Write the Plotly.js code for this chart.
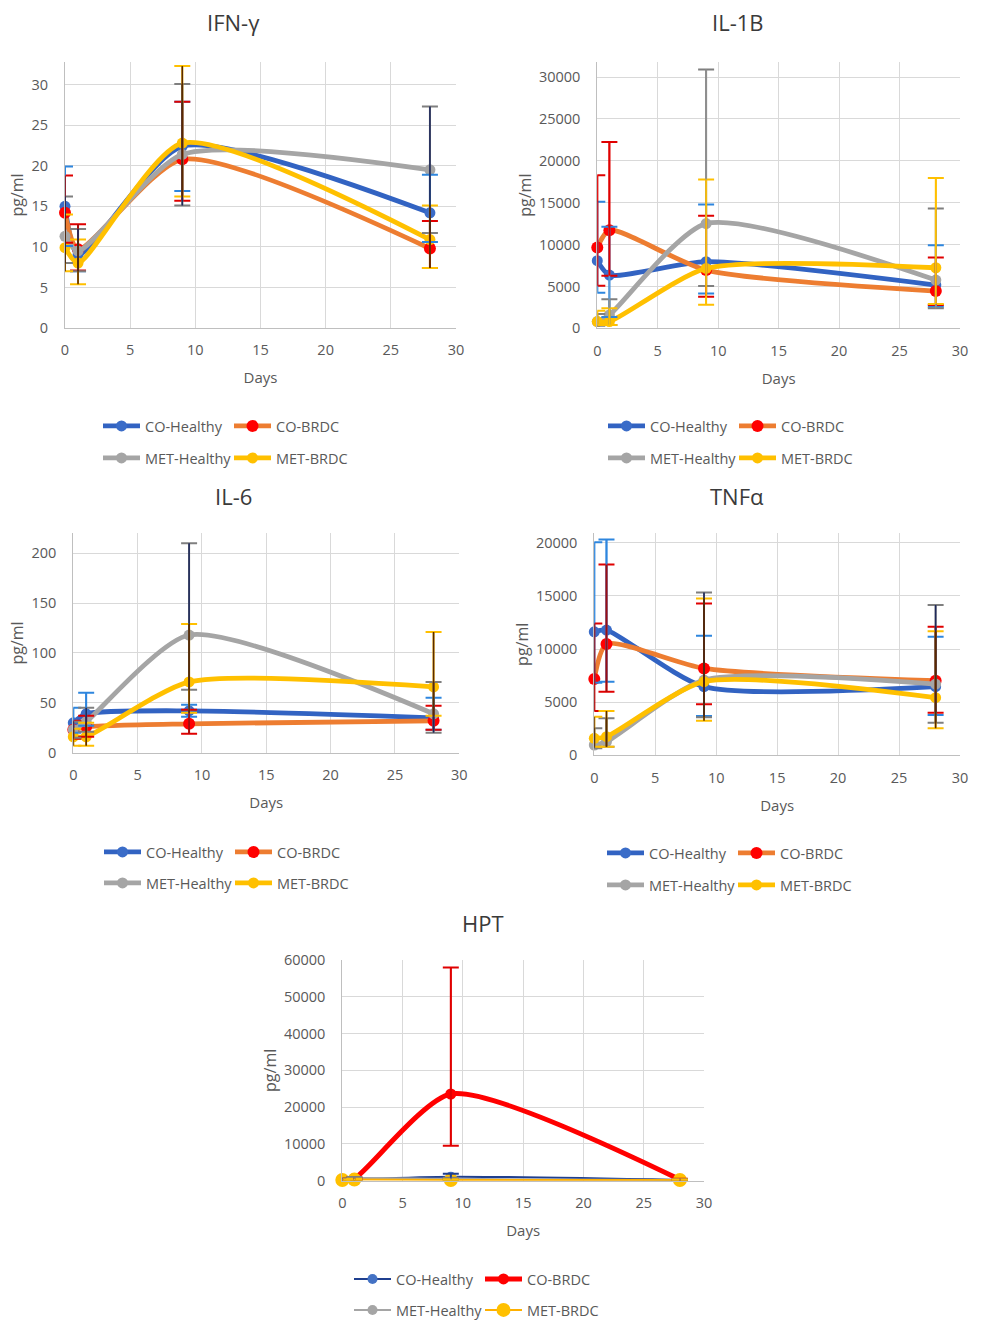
<!DOCTYPE html>
<html><head><meta charset="utf-8">
<script src="https://cdn.plot.ly/plotly-3.0.1.min.js"></script>
<style>html,body{margin:0;padding:0;background:#fff;} #chart{width:981px;height:1339px;}</style>
</head><body><div id="chart"></div>
<script>
// ---------------- DATA ----------------
const days = [0, 1, 9, 28];
const seriesNames = ['CO-Healthy', 'CO-BRDC', 'MET-Healthy', 'MET-BRDC'];
const panelTitles = ['IFN-γ', 'IL-1B', 'IL-6', 'TNFα', 'HPT'];
const xTickVals = [0, 5, 10, 15, 20, 25, 30];
const xAxisLabel = 'Days';
const yAxisLabel = 'pg/ml';

// rows follow seriesNames order; columns follow days
const ifnMean = [
  [15.0, 9.0, 22.4, 14.2],
  [14.2, 9.7, 20.8, 9.8],
  [11.3, 9.5, 21.4, 19.5],
  [9.9, 8.0, 22.8, 10.9]
];
const ifnErrPlus = [
  [4.9, 3.2, 5.5, 4.7],
  [4.6, 3.1, 7.1, 3.4],
  [4.9, 2.7, 8.7, 7.8],
  [4.1, 2.9, 9.5, 4.2]
];
const ifnErrMinus = [
  [4.9, 2.0, 5.5, 3.6],
  [3.7, 2.6, 5.1, 2.4],
  [3.3, 2.5, 6.3, 7.8],
  [2.9, 2.6, 6.6, 3.5]
];

const il1bMean = [
  [8070, 6360, 7950, 5160],
  [9650, 11720, 6950, 4450],
  [800, 1600, 12500, 5760],
  [800, 800, 7150, 7230]
];
const il1bErrPlus = [
  [7030, 5760, 6830, 4770],
  [8630, 10530, 6480, 4010],
  [900, 1860, 18410, 8540],
  [1300, 1580, 10610, 10730]
];
const il1bErrMinus = [
  [3820, 5000, 3780, 2580],
  [4560, 5440, 3180, 1670],
  [500, 1200, 7450, 3380],
  [400, 400, 4330, 4330]
];

const il6Mean = [
  [30, 39, 42, 35],
  [23, 26, 29, 32],
  [23, 31, 118, 39],
  [16, 16, 71, 66]
];
const il6ErrPlus = [
  [15, 21, 6, 20],
  [9, 11, 14, 15],
  [8, 14, 92, 32],
  [8, 14, 58, 55]
];
const il6ErrMinus = [
  [10, 12, 6, 12],
  [9, 10, 10, 9],
  [8, 10, 55, 19],
  [9, 9, 31, 29]
];

const tnfMean = [
  [11630, 11790, 6460, 6460],
  [7180, 10470, 8180, 7020],
  [970, 1290, 7080, 6710],
  [1600, 1750, 6930, 5420]
];
const tnfErrPlus = [
  [8430, 8520, 4790, 4700],
  [5230, 7490, 6110, 5080],
  [1570, 2190, 8250, 7430],
  [2040, 2420, 7830, 6270]
];
const tnfErrMinus = [
  [4800, 4860, 2760, 2670],
  [3010, 4480, 3380, 3010],
  [300, 480, 3500, 3640],
  [800, 940, 3670, 2880]
];

const hptMean = [
  [300, 400, 1100, 200],
  [300, 600, 23570, 300],
  [300, 700, 500, 200],
  [200, 300, 200, 200]
];
const hptErrPlus = [
  [200, 300, 800, 200],
  [200, 300, 34360, 200],
  [200, 300, 300, 200],
  [100, 200, 200, 100]
];
const hptErrMinus = [
  [200, 300, 600, 150],
  [200, 300, 14050, 200],
  [200, 300, 300, 150],
  [100, 200, 150, 100]
];

// ---------------- STYLE / LAYOUT ----------------
const W = 981, H = 1339;
const FONT = 'Open Sans, Noto Sans, DejaVu Sans, sans-serif';
const TXT = '#595959';

const panels = [
  { mean: ifnMean, plus: ifnErrPlus, minus: ifnErrMinus, yMax: 32.8, dtick: 5,
    box: { l: 65, r: 456, t: 62, b: 328 }, title: [233, 22], leg: { x: 103, y1: 426, y2: 458 },
    stems: ['#2e86de', '#9a1010', '#1f2a5c', '#5a2a00'] },
  { mean: il1bMean, plus: il1bErrPlus, minus: il1bErrMinus, yMax: 31800, dtick: 5000,
    box: { l: 597.3, r: 960, t: 62, b: 328.3 }, title: [738, 22], leg: { x: 608, y1: 426, y2: 458 },
    stems: ['#5b9bd5', '#e00000', '#909090', '#ffc000'] },
  { mean: il6Mean, plus: il6ErrPlus, minus: il6ErrMinus, yMax: 220, dtick: 50,
    box: { l: 73.3, r: 459.3, t: 533.3, b: 752.7 }, title: [233, 496], leg: { x: 104, y1: 852, y2: 883 },
    stems: ['#2e86de', '#9a1010', '#1f2a5c', '#5a2a00'] },
  { mean: tnfMean, plus: tnfErrPlus, minus: tnfErrMinus, yMax: 20900, dtick: 5000,
    box: { l: 594.3, r: 960, t: 533.3, b: 755.3 }, title: [737, 496], leg: { x: 607, y1: 853, y2: 885 },
    stems: ['#2e86de', '#9a1010', '#1f2a5c', '#5a2a00'] },
  { mean: hptMean, plus: hptErrPlus, minus: hptErrMinus, yMax: 60000, dtick: 10000,
    box: { l: 342.3, r: 704, t: 960, b: 1180.7 }, title: [483, 923], leg: { x: 354, y1: 1279, y2: 1310 },
    stems: ['#1f3f8f', '#e00000', '#808080', '#ffc000'] }
];

const mainStyle = [
  { line: '#3263c2', lw: 4.8, mk: '#3a6cc8', ms: 11, cap: '#2e86de' },
  { line: '#ed7d31', lw: 4.8, mk: '#ff0000', ms: 12, cap: '#e00000' },
  { line: '#a5a5a5', lw: 4.8, mk: '#a5a5a5', ms: 11, cap: '#7f7f7f' },
  { line: '#ffc000', lw: 4.8, mk: '#ffc000', ms: 11, cap: '#ffc000' }
];
const hptStyle = [
  { line: '#1f3f8f', lw: 2, mk: '#4472c4', ms: 10, cap: '#1f3f8f' },
  { line: '#ff0000', lw: 5, mk: '#ff0000', ms: 11, cap: '#e00000' },
  { line: '#a5a5a5', lw: 2, mk: '#a5a5a5', ms: 10, cap: '#808080' },
  { line: '#ffb000', lw: 2, mk: '#ffc000', ms: 14, cap: '#ffc000' }
];

const traces = [];
const layout = {
  width: W, height: H, margin: { l: 0, r: 0, t: 0, b: 0 },
  paper_bgcolor: '#ffffff', plot_bgcolor: '#ffffff',
  font: { family: FONT, color: TXT },
  showlegend: true, annotations: []
};

panels.forEach((p, i) => {
  const sfx = i === 0 ? '' : String(i + 1);
  const xa = 'x' + sfx, ya = 'y' + sfx;
  const styles = i === 4 ? hptStyle : mainStyle;
  const legA = i * 2 === 0 ? 'legend' : 'legend' + (i * 2 + 1);
  const legB = 'legend' + (i * 2 + 2);

  layout['xaxis' + sfx] = {
    domain: [p.box.l / W, p.box.r / W], anchor: ya,
    range: [0, 30], tickvals: xTickVals, showgrid: true, gridcolor: '#d9d9d9', gridwidth: 1,
    showline: true, linecolor: '#bfbfbf', linewidth: 1, zeroline: false, ticks: '',
    ticklabelstandoff: 9, tickfont: { family: FONT, size: 14.5, color: TXT },
    title: { text: xAxisLabel, font: { family: FONT, size: 15, color: TXT }, standoff: 14 },
    fixedrange: true
  };
  layout['yaxis' + sfx] = {
    domain: [1 - p.box.b / H, 1 - p.box.t / H], anchor: xa,
    range: [0, p.yMax], dtick: p.dtick, tick0: 0, tickformat: 'd',
    showgrid: true, gridcolor: '#d9d9d9', gridwidth: 1,
    showline: true, linecolor: '#bfbfbf', linewidth: 1, zeroline: false, ticks: '',
    ticklabelstandoff: 13, tickfont: { family: FONT, size: 14.5, color: TXT },
    title: { text: yAxisLabel, font: { family: FONT, size: 16, color: TXT }, standoff: 3 },
    fixedrange: true
  };

  // series lines
  seriesNames.forEach((name, s) => {
    const st = styles[s];
    traces.push({
      type: 'scatter', mode: 'lines+markers', name: name, x: days, y: p.mean[s],
      xaxis: xa, yaxis: ya, legend: s < 2 ? legA : legB,
      line: { color: st.line, width: st.lw, shape: 'spline', smoothing: 0.65 },
      marker: { color: st.mk, size: st.ms, symbol: 'circle' },
      cliponaxis: false, hoverinfo: 'skip'
    });
  });
  // error bars (caps)
  seriesNames.forEach((name, s) => {
    const st = styles[s];
    traces.push({
      type: 'scatter', mode: 'markers', name: name + ' SD', x: days, y: p.mean[s],
      xaxis: xa, yaxis: ya, showlegend: false, cliponaxis: false, hoverinfo: 'skip',
      marker: { size: 1, color: 'rgba(0,0,0,0)' },
      error_y: { type: 'data', symmetric: false, array: p.plus[s], arrayminus: p.minus[s],
                 color: st.cap, thickness: 2, width: 8 }
    });
  });
  // error stems on top
  seriesNames.forEach((name, s) => {
    traces.push({
      type: 'scatter', mode: 'markers', name: name + ' SD stem', x: days, y: p.mean[s],
      xaxis: xa, yaxis: ya, showlegend: false, cliponaxis: false, hoverinfo: 'skip',
      marker: { size: 1, color: 'rgba(0,0,0,0)' },
      error_y: { type: 'data', symmetric: false, array: p.plus[s], arrayminus: p.minus[s],
                 color: p.stems[s], thickness: 1.6, width: 0 }
    });
  });

  const legCommon = {
    orientation: 'h', xanchor: 'left', yanchor: 'middle', bgcolor: 'rgba(0,0,0,0)',
    borderwidth: 0, itemwidth: 37, entrywidth: 79, entrywidthmode: 'pixels',
    font: { family: FONT, size: 14.5, color: TXT }, itemclick: false, itemdoubleclick: false
  };
  layout[legA] = Object.assign({}, legCommon, { x: (p.leg.x - 5) / W, y: 1 - p.leg.y1 / H });
  layout[legB] = Object.assign({}, legCommon, { x: (p.leg.x - 5) / W, y: 1 - p.leg.y2 / H });

  layout.annotations.push({
    text: panelTitles[i], xref: 'paper', yref: 'paper', x: p.title[0] / W, y: 1 - p.title[1] / H,
    xanchor: 'center', yanchor: 'middle', showarrow: false,
    font: { family: FONT, size: 22, color: '#3a3a3a' }
  });
});

Plotly.newPlot('chart', traces, layout, { staticPlot: true, displayModeBar: false });
</script>
</body></html>
